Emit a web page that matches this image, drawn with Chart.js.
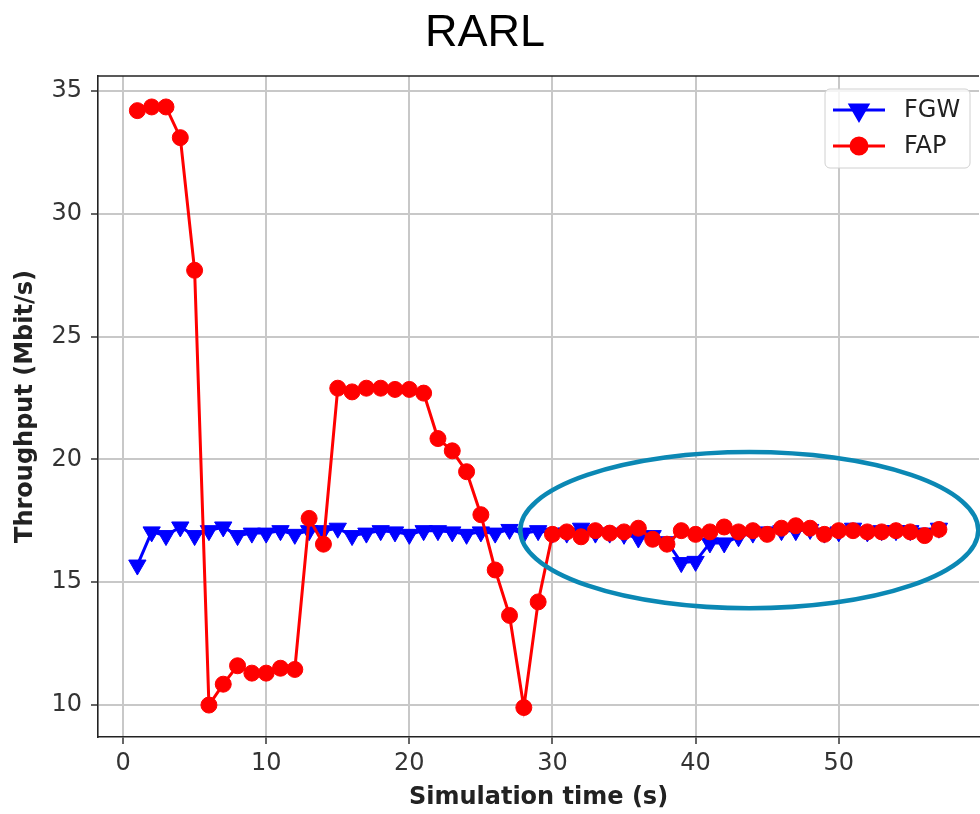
<!DOCTYPE html>
<html lang="en">
    <head>
        <meta charset="UTF-8" />
        <title>RARL</title>
        <style>
            html,
            body {
                margin: 0;
                padding: 0;
                background: #fff;
                overflow: hidden;
            }
            .wrap {
                position: relative;
                width: 990px;
                height: 814px;
            }
        </style>
    </head>
    <body>
        <div class="wrap">
            <canvas id="chart" width="990" height="814"></canvas>
        </div>

        <script src="https://cdn.jsdelivr.net/npm/chart.js"></script>
        <script>
            // simulation time (s)
            const times = [
                1, 2, 3, 4, 5, 6, 7, 8, 9, 10, 11, 12, 13, 14, 15, 16, 17, 18,
                19, 20, 21, 22, 23, 24, 25, 26, 27, 28, 29, 30, 31, 32, 33, 34,
                35, 36, 37, 38, 39, 40, 41, 42, 43, 44, 45, 46, 47, 48, 49, 50,
                51, 52, 53, 54, 55, 56, 57,
            ]
            // throughput, Mbit/s
            const fgw = [
                15.7, 17.05, 16.9, 17.25, 16.9, 17.1, 17.25, 16.9, 17.0, 17.0,
                17.1, 16.95, 17.1, 17.1, 17.2, 16.9, 17.0, 17.1, 17.05, 16.95,
                17.1, 17.1, 17.05, 16.95, 17.05, 17.0, 17.15, 17.0, 17.1, 17.0,
                17.0, 17.2, 17.0, 17.0, 16.95, 16.8, 16.9, 16.65, 15.8, 15.85,
                16.6, 16.6, 16.85, 17.0, 17.05, 17.1, 17.1, 17.15, 17.0, 17.05,
                17.2, 17.05, 17.1, 17.1, 17.1, 17.0, 17.2,
            ]
            const fap = [
                34.2, 34.35, 34.35, 33.1, 27.7, 10.0, 10.85, 11.6, 11.3, 11.3,
                11.5, 11.45, 17.6, 16.55, 22.9, 22.75, 22.9, 22.9, 22.85, 22.85,
                22.7, 20.85, 20.35, 19.5, 17.75, 15.5, 13.65, 9.9, 14.2, 16.95,
                17.05, 16.85, 17.1, 17.0, 17.05, 17.2, 16.75, 16.55, 17.1, 16.95,
                17.05, 17.25, 17.05, 17.1, 16.95, 17.2, 17.3, 17.2, 16.95, 17.1,
                17.1, 17.05, 17.05, 17.1, 17.05, 16.9, 17.15,
            ]
            const xTicks = [0, 10, 20, 30, 40, 50]
            const yTicks = [10, 15, 20, 25, 30, 35]

            // highlighted region (data units)
            const ellipse = { cx: 43.75, cy: 17.12, rx: 16.0, ry: 3.18 }

            const tickFont = { family: "DejaVu Sans", size: 24 }
            const labelFont = { family: "DejaVu Sans", size: 24, weight: "bold" }

            const toPoints = (ys) => times.map((t, i) => ({ x: t, y: ys[i] }))

            const extras = {
                id: "extras",
                afterDraw(chart) {
                    const ctx = chart.ctx
                    const area = chart.chartArea
                    const xs = chart.scales.x
                    const ys = chart.scales.y

                    // top spine
                    ctx.save()
                    ctx.strokeStyle = "#222"
                    ctx.lineWidth = 1.6
                    ctx.beginPath()
                    ctx.moveTo(area.left, area.top)
                    ctx.lineTo(area.right, area.top)
                    ctx.stroke()
                    ctx.restore()

                    // title
                    ctx.save()
                    ctx.fillStyle = "#000"
                    ctx.font = "45px 'Liberation Sans', Arial, sans-serif"
                    ctx.textAlign = "center"
                    ctx.textBaseline = "alphabetic"
                    ctx.fillText("RARL", 485, 46)
                    ctx.restore()

                    // legend
                    ctx.save()
                    const lx = 825,
                        ly = 89,
                        lw = 145,
                        lh = 79
                    ctx.fillStyle = "rgba(255,255,255,0.8)"
                    ctx.strokeStyle = "#d0d0d0"
                    ctx.lineWidth = 1
                    ctx.beginPath()
                    ctx.roundRect(lx, ly, lw, lh, 5)
                    ctx.fill()
                    ctx.stroke()
                    const items = [
                        { label: "FGW", color: "#0000ff", style: "triangle", rot: 180, r: 10, y: 110 },
                        { label: "FAP", color: "#ff0000", style: "circle", rot: 0, r: 8, y: 146 },
                    ]
                    items.forEach((it) => {
                        ctx.strokeStyle = it.color
                        ctx.fillStyle = it.color
                        ctx.lineWidth = 3
                        ctx.beginPath()
                        ctx.moveTo(833, it.y)
                        ctx.lineTo(885, it.y)
                        ctx.stroke()
                        Chart.helpers.drawPoint(
                            ctx,
                            { pointStyle: it.style, rotation: it.rot, radius: it.r, borderWidth: 1 },
                            859,
                            it.y
                        )
                        ctx.fillStyle = "#222"
                        ctx.font = "24px 'DejaVu Sans'"
                        ctx.textBaseline = "middle"
                        ctx.textAlign = "left"
                        ctx.fillText(it.label, 904, it.y + 1)
                    })
                    ctx.restore()

                    // ellipse annotation
                    const cx = xs.getPixelForValue(ellipse.cx)
                    const cy = ys.getPixelForValue(ellipse.cy)
                    const rx = xs.getPixelForValue(ellipse.cx + ellipse.rx) - cx
                    const ry = cy - ys.getPixelForValue(ellipse.cy + ellipse.ry)
                    ctx.save()
                    ctx.strokeStyle = "#0b88b4"
                    ctx.lineWidth = 4.5
                    ctx.beginPath()
                    ctx.ellipse(cx, cy, rx, ry, 0, 0, Math.PI * 2)
                    ctx.stroke()
                    ctx.restore()
                },
            }

            new Chart(document.getElementById("chart"), {
                type: "line",
                data: {
                    datasets: [
                        {
                            label: "FGW",
                            data: toPoints(fgw),
                            borderColor: "#0000ff",
                            backgroundColor: "#0000ff",
                            borderWidth: 3,
                            pointStyle: "triangle",
                            pointRotation: 180,
                            pointRadius: 10,
                            pointBorderWidth: 1,
                            tension: 0,
                            order: 1,
                        },
                        {
                            label: "FAP",
                            data: toPoints(fap),
                            borderColor: "#ff0000",
                            backgroundColor: "#ff0000",
                            borderWidth: 3,
                            pointStyle: "circle",
                            pointRadius: 8,
                            pointBorderWidth: 1,
                            tension: 0,
                            order: 0,
                        },
                    ],
                },
                options: {
                    responsive: false,
                    animation: false,
                    layout: {
                        padding: { left: 0, right: 6, top: 76, bottom: 0 },
                    },
                    plugins: {
                        legend: { display: false },
                        tooltip: { enabled: false },
                    },
                    scales: {
                        x: {
                            type: "linear",
                            min: -1.75,
                            max: 59.8,
                            afterBuildTicks: (s) => {
                                s.ticks = xTicks.map((v) => ({ value: v }))
                            },
                            afterFit: (s) => {
                                s.height = 77
                            },
                            grid: {
                                color: "#c8c8c8",
                                lineWidth: 2,
                                tickColor: "#333",
                                tickLength: 7,
                                tickWidth: 1.5,
                            },
                            border: { display: true, color: "#222", width: 1.6 },
                            ticks: {
                                font: tickFont,
                                color: "#333",
                                padding: 5,
                                maxRotation: 0,
                            },
                            title: {
                                display: true,
                                text: "Simulation time (s)",
                                font: labelFont,
                                color: "#222",
                                padding: { top: 0, bottom: 2 },
                            },
                        },
                        y: {
                            min: 8.7,
                            max: 35.61,
                            afterBuildTicks: (s) => {
                                s.ticks = yTicks.map((v) => ({ value: v }))
                            },
                            afterFit: (s) => {
                                s.width = 98
                            },
                            grid: {
                                color: "#c8c8c8",
                                lineWidth: 2,
                                tickColor: "#333",
                                tickLength: 7,
                                tickWidth: 1.5,
                            },
                            border: { display: true, color: "#222", width: 1.6 },
                            ticks: {
                                font: tickFont,
                                color: "#333",
                                padding: 9,
                            },
                            title: {
                                display: true,
                                text: "Throughput (Mbit/s)",
                                font: labelFont,
                                color: "#222",
                                padding: { top: 11, bottom: 0 },
                            },
                        },
                    },
                },
                plugins: [extras],
            })
        </script>
    </body>
</html>
